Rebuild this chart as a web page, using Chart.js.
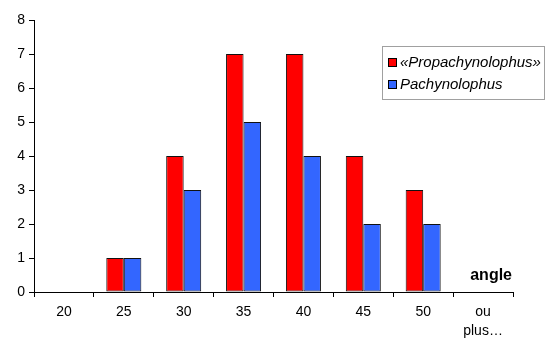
<!DOCTYPE html>
<html>
<head>
<meta charset="utf-8">
<script src="https://cdn.jsdelivr.net/npm/chart.js@4/dist/chart.umd.min.js"></script>
<style>
  html, body { margin: 0; padding: 0; background: #fff; }
  #wrap { width: 546px; height: 338px; position: relative; }
</style>
</head>
<body>
<div id="wrap"><canvas id="c" width="546" height="338"></canvas></div>
<script>
// Angle classes (degrees) and counts per genus
const categories = ['20', '25', '30', '35', '40', '45', '50', ['ou', 'plus…']];
const propachynolophus = [0, 1, 4, 7, 7, 4, 3, 0];
const pachynolophus = [0, 1, 3, 5, 4, 2, 2, 0];
const seriesNames = ['«Propachynolophus»', 'Pachynolophus'];
const seriesColors = ['#FF0000', '#3366FF'];
const yTicks = [0, 1, 2, 3, 4, 5, 6, 7, 8];
const axisTitle = 'angle';

const FONT = '"Liberation Sans", Arial, sans-serif';

// Boxed legend and axis caption drawn inside the plot area
const overlay = {
  id: 'overlay',
  afterDraw(chart) {
    const ctx = chart.ctx;
    const area = chart.chartArea;
    ctx.save();
    // legend frame
    const lx = 382.5, ly = 46.5, lw = 162, lh = 53;
    ctx.fillStyle = '#fff';
    ctx.fillRect(lx, ly, lw, lh);
    ctx.strokeStyle = '#a0a0a0';
    ctx.lineWidth = 1;
    ctx.strokeRect(lx, ly, lw, lh);
    ctx.font = 'italic 15px ' + FONT;
    ctx.textBaseline = 'alphabetic';
    ctx.textAlign = 'left';
    const rows = [67, 89];
    seriesNames.forEach((name, i) => {
      const y = rows[i];
      ctx.fillStyle = seriesColors[i];
      ctx.fillRect(388, y - 9, 9, 9);
      ctx.strokeStyle = '#000';
      ctx.strokeRect(388.5, y - 8.5, 8, 8);
      ctx.fillStyle = '#000';
      ctx.fillText(name, 400, y);
    });
    // axis caption
    ctx.font = 'bold 16px ' + FONT;
    ctx.textAlign = 'right';
    ctx.fillStyle = '#000';
    ctx.fillText(axisTitle, area.right - 1, area.bottom - 12);
    ctx.restore();
  }
};

new Chart(document.getElementById('c'), {
  type: 'bar',
  data: {
    labels: categories,
    datasets: [
      { label: seriesNames[0], data: propachynolophus, backgroundColor: seriesColors[0],
        borderColor: '#111', borderWidth: 1, borderSkipped: false },
      { label: seriesNames[1], data: pachynolophus, backgroundColor: seriesColors[1],
        borderColor: '#111', borderWidth: 1, borderSkipped: false }
    ]
  },
  options: {
    responsive: false,
    animation: false,
    devicePixelRatio: 1,
    layout: { padding: { left: 0, right: 33, top: 20, bottom: 0 } },
    datasets: { bar: { categoryPercentage: 0.585, barPercentage: 1 } },
    plugins: { legend: { display: false }, tooltip: { enabled: false } },
    scales: {
      x: {
        offset: true,
        grid: { display: true, drawOnChartArea: false, drawTicks: true, tickLength: 5,
                color: '#000', offset: true },
        border: { display: true, color: '#000', width: 1 },
        ticks: { color: '#000', font: { family: FONT, size: 14, lineHeight: 1.35 },
                 maxRotation: 0, padding: 6 },
        afterFit(s) { s.height = 46; }
      },
      y: {
        min: 0, max: 8,
        afterBuildTicks(s) { s.ticks = yTicks.map(v => ({ value: v })); },
        grid: { display: true, drawOnChartArea: false, drawTicks: true, tickLength: 5, color: '#000' },
        border: { display: true, color: '#000', width: 1 },
        ticks: { color: '#000', font: { family: FONT, size: 14 }, padding: 4 },
        afterFit(s) { s.width = 34; }
      }
    }
  },
  plugins: [overlay]
});
</script>
</body>
</html>
